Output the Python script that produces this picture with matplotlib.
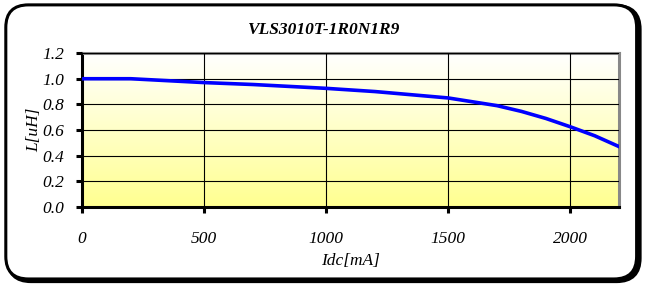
import numpy as np
import matplotlib.pyplot as plt
from matplotlib.patches import FancyBboxPatch
from matplotlib.colors import LinearSegmentedColormap

idc_ma = [0, 200, 400, 500, 700, 1000, 1200, 1500, 1700, 1800, 1900, 2000, 2100, 2200]
l_uh = [1.00, 1.00, 0.98, 0.97, 0.955, 0.925, 0.90, 0.85, 0.79, 0.745, 0.69, 0.625, 0.555, 0.47]

title = "VLS3010T-1R0N1R9"
x_ticks = [0, 500, 1000, 1500, 2000]
y_ticks = [0.0, 0.2, 0.4, 0.6, 0.8, 1.0, 1.2]

plt.rcParams['font.family'] = ['Liberation Serif', 'DejaVu Serif']

fig = plt.figure(figsize=(6.45, 2.87), dpi=100)

# rounded outer frame with a little shadow
shadow = FancyBboxPatch((0.013, 0.022), 0.978, 0.955, boxstyle="round,pad=0,rounding_size=0.035",
                        transform=fig.transFigure, facecolor="none", edgecolor="black",
                        linewidth=3.5, mutation_aspect=645 / 287, zorder=-2)
frame = FancyBboxPatch((0.009, 0.028), 0.978, 0.955, boxstyle="round,pad=0,rounding_size=0.035",
                       transform=fig.transFigure, facecolor="white", edgecolor="black",
                       linewidth=2.2, mutation_aspect=645 / 287, zorder=-1)
fig.patches.extend([shadow, frame])

ax = fig.add_axes([0.127, 0.279, 0.833, 0.536])
ax.set_zorder(2)
ax.set_xlim(0, 2200)
ax.set_ylim(0, 1.2)

# white-to-yellow gradient background
cmap = LinearSegmentedColormap.from_list("wy", ["#ffff90", "#ffffff"])
grad = np.linspace(0, 1, 256).reshape(-1, 1)
ax.imshow(grad, extent=[0, 2200, 0, 1.2], origin="lower", aspect="auto", cmap=cmap, zorder=0)

ax.set_xticks(x_ticks)
ax.set_yticks(y_ticks)
ax.set_yticklabels([f"{v:.1f}" for v in y_ticks])
ax.grid(True, color="black", linewidth=0.8, zorder=1)
ax.set_axisbelow(False)

ax.plot(idc_ma, l_uh, color="#0000ff", linewidth=2.6, zorder=3)

for s in ["left", "bottom"]:
    ax.spines[s].set_linewidth(2.2)
    ax.spines[s].set_color("black")
for s in ["top", "right"]:
    ax.spines[s].set_linewidth(2.2)
    ax.spines[s].set_color("#888888")

ax.tick_params(direction="out", length=4, width=2.2, color="black", labelsize=12.5)
for lab in ax.get_xticklabels() + ax.get_yticklabels():
    lab.set_style("italic")
ax.tick_params(axis="x", pad=13)
ax.tick_params(axis="y", pad=9)

ax.set_xlabel("Idc[mA]", fontsize=12.5, style="italic", labelpad=5)
ax.set_ylabel("L[uH]", fontsize=12.5, style="italic", labelpad=0)
fig.text(0.502, 0.895, title, fontsize=12.5, style="italic", weight="bold", ha="center", va="center")

fig.savefig("out.png", dpi=100)
